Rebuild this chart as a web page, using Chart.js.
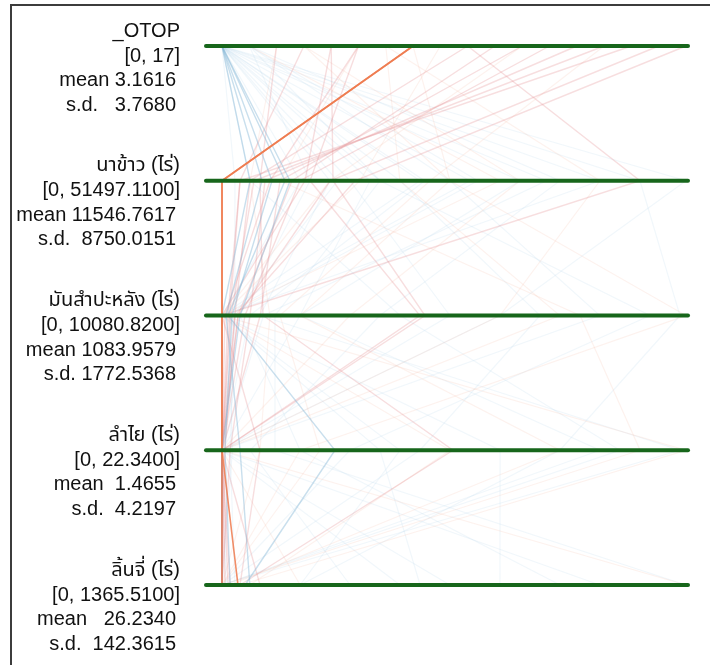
<!DOCTYPE html>
<html>
<head>
<meta charset="utf-8">
<script src="https://cdn.jsdelivr.net/npm/chart.js@4.4.1/dist/chart.umd.min.js"></script>
<style>
  html, body { margin: 0; padding: 0; background: #fff; }
  #wrap { position: relative; width: 710px; height: 665px; overflow: hidden; }
  #frame { position: absolute; left: 10px; top: 4px; width: 760px; height: 720px;
           border-top: 2px solid #3c3c3c; border-left: 2px solid #3c3c3c; }
  canvas { position: absolute; left: 0; top: 0; }
</style>
</head>
<body>
<div id="wrap">
  <div id="frame"></div>
  <canvas id="c" width="710" height="665"></canvas>
</div>
<script>
// Axis descriptions (one per horizontal axis, top to bottom)
const axisNames = ['_OTOP', 'นาข้าว (ไร่)', 'มันสำปะหลัง (ไร่)', 'ลำไย (ไร่)', 'ลิ้นจี่ (ไร่)'];
const axisMin = [0, 0, 0, 0, 0];
const axisMax = [17, 51497.11, 10080.82, 22.34, 1365.51];
const rangeLabels = ['[0, 17]', '[0, 51497.1100]', '[0, 10080.8200]', '[0, 22.3400]', '[0, 1365.5100]'];
const meanLabels = ['mean 3.1616', 'mean 11546.7617', 'mean 1083.9579', 'mean  1.4655', 'mean   26.2340'];
const sdLabels = ['s.d.   3.7680', 's.d.  8750.0151', 's.d. 1772.5368', 's.d.  4.2197', 's.d.  142.3615'];

// One entry per record, in the same order in every array
const otop = [7, 7, 0, 0, 0, 0, 0, 17, 15, 13, 12, 11, 9, 4, 4, 6, 16, 9, 2, 5, 3, 5, 14, 10,
  3, 8, 6, 14, 5, 11, 7, 2, 3, 1,
  0, 0, 0, 0, 1, 0, 1, 0, 0, 1, 0, 0, 1, 0, 0, 0, 0, 0, 0, 0, 1, 0];
const rice = [0, 0, 6990, 5550, 7550, 4440, 3110, 14760, 2000, 4770, 8660, 6440, 3110, 9210, 12320, 19750, 12000, 46390, 4220, 9770, 2000, 5330, 3550, 7770,
  33070, 15320, 41950, 23080, 6440, 11990, 25300, 3110, 25300, 30850,
  17530, 51497.11, 41950, 33070, 25300, 21970, 17530, 14200, 11990, 37510, 27520, 19750, 9770, 46390, 16430, 8660, 3110, 1440, 12800, 22500, 28400, 36000];
const cassava = [0, 0, 130, 217, 390, 87, 0, 280, 130, 610, 500, 830, 280, 0, 4410, 7340, 350, 0, 890, 4300, 170, 65, 200, 350,
  2780, 0, 6040, 1260, 7780, 0, 1695, 1040, 10080.82, 0,
  1150, 6040, 0, 1695, 8210, 0, 9300, 4950, 825, 3430, 0, 6910, 390, 9950, 1695, 0, 3870, 280, 250, 600, 150, 900];
const longan = [0, 0, 5.44, 0.14, 0, 0.87, 0, 0, 0, 0.39, 0, 0, 0.14, 0, 0, 0, 0, 1.83, 11.12, 0, 0, 0, 0, 0,
  0, 10.98, 0, 4.72, 20.13, 0, 16.27, 1.83, 3.76, 22.34,
  2.55, 0, 8.57, 18.2, 0, 13.39, 6.16, 0, 22.05, 1.35, 0, 9.53, 3.76, 16.27, 0, 7.61, 19.16, 0.39, 0, 0, 0.5, 0];
const lychee = [0, 47, 68, 24, 0, 82, 0, 0, 9, 0, 112, 0, 0, 0, 18, 0, 0, 53, 53, 0, 0, 24, 0, 0,
  0, 82, 230, 0, 0, 1365.51, 24, 0, 0, 53,
  1365.51, 0, 230, 0, 524, 818, 0, 1112, 0, 377, 671, 0, 995, 230, 0, 583, 0, 38, 0, 12, 0, 0];
const group = ['A', 'A', 'B', 'B', 'B', 'B', 'B', 'C', 'C', 'C', 'C', 'C', 'C', 'C', 'C', 'D', 'C', 'C', 'C', 'C', 'C', 'C', 'C', 'C',
  'D', 'D', 'D', 'D', 'D', 'D', 'D', 'D', 'D', 'D',
  'E', 'E', 'E', 'E', 'E', 'E', 'E', 'E', 'E', 'E', 'E', 'E', 'E', 'E', 'E', 'E', 'E', 'E', 'E', 'E', 'E', 'E'];

const columns = [otop, rice, cassava, longan, lychee];

// Line look for each group
const groupStyle = {
  A: { color: 'rgba(238,122,78,0.85)', width: 1.6, order: 1 },
  B: { color: 'rgba(135,185,215,0.45)', width: 1.4, order: 2 },
  C: { color: 'rgba(228,135,140,0.28)', width: 1.4, order: 3 },
  D: { color: 'rgba(240,165,140,0.15)', width: 1.2, order: 4 },
  E: { color: 'rgba(170,205,228,0.16)', width: 1.2, order: 5 }
};

const GREEN = '#17661b';
const datasets = [];

// Horizontal axes with a ring marker on their left end
axisNames.forEach((name, i) => {
  datasets.push({
    label: name,
    data: [{ x: -0.0345, y: i }, { x: 1.0043, y: i }],
    showLine: true,
    borderColor: GREEN,
    borderWidth: 4,
    borderCapStyle: 'round',
    pointRadius: [5, 0],
    pointBorderWidth: 2.5,
    pointBorderColor: GREEN,
    pointBackgroundColor: '#ffffff',
    clip: false,
    order: 0
  });
});

// Records: each value placed along its own axis, scaled by that axis' range
otop.forEach((_, r) => {
  const st = groupStyle[group[r]];
  datasets.push({
    data: columns.map((col, i) => ({ x: (col[r] - axisMin[i]) / (axisMax[i] - axisMin[i]), y: i })),
    showLine: true,
    borderColor: st.color,
    borderWidth: st.width,
    pointRadius: 0,
    clip: false,
    order: st.order
  });
});

// Text block to the left of each axis
const axisText = {
  id: 'axisText',
  afterDraw(chart) {
    const ctx = chart.ctx;
    const y = chart.scales.y;
    const xr = chart.chartArea.left - 42;
    ctx.save();
    ctx.fillStyle = '#111111';
    ctx.textAlign = 'right';
    ctx.textBaseline = 'middle';
    ctx.font = '20px "Liberation Sans", Arial, "Noto Sans Thai", "DejaVu Sans", sans-serif';
    axisNames.forEach((name, i) => {
      const py = y.getPixelForValue(i);
      ctx.fillText(name, xr, py - 15);
      ctx.fillText(rangeLabels[i], xr, py + 10);
      ctx.fillText(meanLabels[i], xr - 4, py + 34.5);
      ctx.fillText(sdLabels[i], xr - 4, py + 59);
    });
    ctx.restore();
  }
};

new Chart(document.getElementById('c'), {
  type: 'scatter',
  data: { datasets },
  options: {
    responsive: false,
    animation: false,
    events: [],
    layout: { padding: { left: 222, right: 24, top: 46, bottom: 80 } },
    scales: {
      x: { type: 'linear', min: 0, max: 1, display: false },
      y: { type: 'linear', min: 0, max: 4, reverse: true, display: false }
    },
    plugins: { legend: { display: false }, tooltip: { enabled: false } }
  },
  plugins: [axisText]
});
</script>
</body>
</html>
